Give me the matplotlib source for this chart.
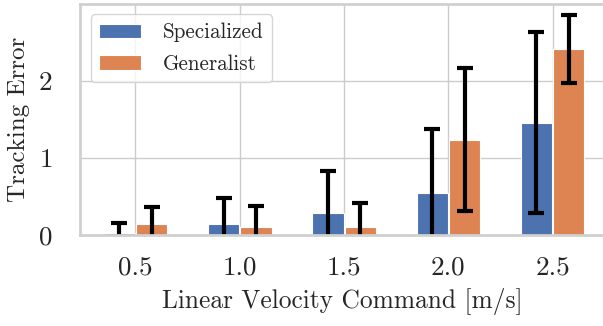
import numpy as np
import matplotlib
matplotlib.use("Agg")
import matplotlib.pyplot as plt
import seaborn as sns

velocities = ["0.5", "1.0", "1.5", "2.0", "2.5"]
specialized_mean = [0.03, 0.14, 0.28, 0.54, 1.46]
specialized_err = [0.12, 0.34, 0.55, 0.83, 1.18]
generalist_mean = [0.14, 0.10, 0.10, 1.24, 2.41]
generalist_err = [0.22, 0.28, 0.31, 0.93, 0.44]

sns.set_theme(style="whitegrid")
plt.rcParams["font.family"] = "serif"
plt.rcParams["font.serif"] = ["cmr10"]
plt.rcParams["axes.formatter.use_mathtext"] = True
plt.rcParams["axes.unicode_minus"] = False

fig, ax = plt.subplots(figsize=(6.03, 3.26), dpi=100)
fig.subplots_adjust(left=0.133, right=1.003, top=0.988, bottom=0.279)

x = np.arange(len(velocities))
w = 0.3
ax.bar(x - 0.155, specialized_mean, w, color="#4C72B0", edgecolor="white",
       linewidth=0.8, label="Specialized")
ax.bar(x + 0.155, generalist_mean, w, color="#DD8452", edgecolor="white",
       linewidth=0.8, label="Generalist")
ax.errorbar(x - 0.155, specialized_mean, yerr=specialized_err, fmt="none",
            ecolor="black", elinewidth=3, capsize=6, capthick=3)
ax.errorbar(x + 0.155, generalist_mean, yerr=generalist_err, fmt="none",
            ecolor="black", elinewidth=3, capsize=6, capthick=3)

ax.set_xlim(-0.53, 4.5)
ax.set_ylim(0, 3.0)
ax.set_yticks([0, 1, 2])
ax.set_xticks(x)
ax.set_xticklabels(velocities)
ax.tick_params(labelsize=19.5)
ax.tick_params(axis="y", pad=14)
ax.tick_params(axis="x", pad=9)
ax.set_xlabel("Linear Velocity Command [m/s]", fontsize=18.3, labelpad=6)
ax.set_ylabel("Tracking Error", fontsize=18, labelpad=6)
for s in ax.spines.values():
    s.set_linewidth(2)
    s.set_color("#d0d0d0")
ax.legend(loc="upper left", fontsize=15.2, labelspacing=0.55, handletextpad=1.0)

fig.savefig("out.png", dpi=100)
